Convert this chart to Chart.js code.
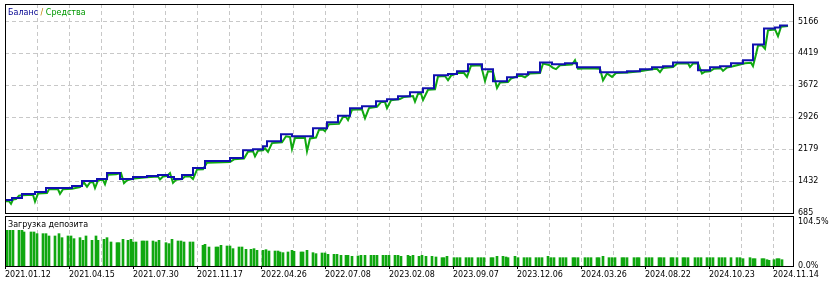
<!DOCTYPE html>
<html><head><meta charset="utf-8">
<script src="https://cdn.jsdelivr.net/npm/chart.js@4/dist/chart.umd.min.js"></script>
<style>
html,body{margin:0;padding:0;background:#fff;width:838px;height:283px;overflow:hidden}
canvas{position:absolute;left:0}
#c1{top:0}
#c2{top:215px}
</style></head><body>
<canvas id="c1" width="838" height="215"></canvas>
<canvas id="c2" width="838" height="68"></canvas>
<script>
// ---- data (x = deal number on the tester's horizontal axis) ----
const dateLabels = ['2021.01.12','2021.04.15','2021.07.30','2021.11.17','2022.04.26','2022.07.08','2023.02.08','2023.09.07','2023.12.06','2024.03.26','2024.08.22','2024.10.23','2024.11.14'];
const balanceTickLabels = [685, 1432, 2179, 2926, 3672, 4419, 5166];
const loadTickLabels = [0, 104.5];
const dealsTotal = 788;

const balancePoints = [[0,988],[7,1035],[17,1128],[30,1175],[41,1268],[67,1315],[77,1432],[92,1479],[102,1619],[115,1479],[128,1525],[142,1549],[153,1572],[163,1525],[169,1479],[177,1572],[188,1735],[200,1899],[225,1969],[238,2155],[248,2179],[258,2249],[262,2365],[276,2529],[287,2482],[308,2669],[322,2809],[333,2960],[345,3136],[357,3182],[371,3299],[382,3346],[393,3416],[405,3509],[418,3602],[429,3906],[443,3940],[452,3999],[463,4163],[477,4046],[488,3766],[502,3859],[512,3929],[523,3976],[535,4209],[547,4163],[560,4186],[572,4093],[595,3976],[622,3999],[635,4046],[647,4093],[658,4116],[668,4209],[693,4023],[705,4093],[715,4116],[726,4186],[738,4256],[748,4629],[759,5003],[770,5026],[775,5073],[783,5073]];

const equityPoints = [[0,960],[4,960],[6,900],[8,1000],[11,1010],[14,1090],[17,1100],[28,1110],[30,950],[33,1140],[42,1150],[44,1240],[53,1240],[55,1130],[58,1240],[67,1250],[75,1290],[79,1395],[82,1300],[85,1400],[88,1410],[90,1270],[93,1450],[98,1460],[100,1360],[103,1580],[111,1590],[113,1600],[116,1620],[119,1385],[122,1450],[129,1490],[142,1520],[153,1540],[155,1470],[158,1540],[162,1550],[165,1620],[168,1390],[171,1460],[177,1480],[180,1540],[185,1545],[188,1480],[192,1700],[198,1710],[202,1860],[225,1880],[229,1940],[239,1960],[243,2120],[248,2130],[250,2010],[253,2140],[258,2150],[260,2200],[263,2115],[267,2320],[277,2340],[281,2480],[285,2460],[287,2180],[290,2440],[300,2440],[302,2130],[305,2430],[311,2450],[314,2630],[318,2640],[320,2600],[324,2760],[334,2770],[338,2930],[341,2930],[343,2860],[347,3100],[357,3110],[360,2900],[364,3140],[372,3170],[376,3280],[380,3280],[382,3140],[386,3320],[395,3350],[399,3400],[408,3420],[410,3290],[413,3470],[416,3480],[418,3330],[423,3570],[430,3580],[433,3880],[440,3890],[443,3790],[446,3900],[453,3960],[459,3960],[462,3870],[466,4130],[476,4140],[480,3770],[483,4000],[488,3990],[492,3610],[495,3740],[503,3750],[506,3830],[513,3890],[517,3890],[520,3860],[525,3950],[535,3960],[538,4180],[544,4150],[548,4080],[551,4050],[555,4140],[567,4160],[570,4260],[573,4060],[585,4070],[595,4060],[598,3790],[602,3950],[607,3870],[611,3960],[623,3970],[635,4000],[647,4050],[652,4060],[655,3980],[658,4080],[668,4100],[672,4180],[683,4190],[685,4100],[688,4180],[693,4180],[697,3950],[700,3990],[705,4000],[709,4060],[716,4070],[718,4010],[722,4090],[728,4120],[740,4190],[746,4200],[748,4120],[751,4400],[753,4600],[757,4610],[760,4530],[763,4960],[770,4980],[773,4820],[776,5040],[783,5060]];

const loadPoints = [[2,84.7],[5,84.7],[8,84.7],[14,84.7],[17,84.7],[19,80.8],[26,80.8],[29,80.8],[32,76.8],[38,76.8],[41,76.8],[44,71.3],[50,71.3],[54,76.8],[57,67.3],[63,71.3],[66,71.3],[69,64.9],[75,67.3],[78,61.0],[81,71.3],[87,61.0],[91,71.3],[93,61.0],[99,63.4],[102,67.3],[106,57.0],[112,55.4],[114,55.4],[118,63.4],[123,61.0],[126,63.4],[128,57.0],[131,57.0],[137,59.4],[139,59.4],[142,59.4],[148,59.4],[151,57.0],[154,61.0],[161,55.4],[164,53.1],[167,63.4],[173,59.4],[176,59.4],[179,57.0],[185,57.0],[188,57.0],[198,49.1],[200,51.5],[204,45.1],[211,45.1],[213,45.1],[216,49.1],[222,47.5],[225,47.5],[228,41.2],[234,45.1],[237,45.1],[241,39.6],[246,39.6],[249,41.2],[252,37.2],[258,37.2],[261,38.8],[264,35.6],[270,35.6],[273,35.6],
[275,33.3],[278,31.7],[283,33.3],[287,37.2],[289,34.8],[296,33.3],[298,33.3],[302,37.2],[308,31.7],[311,29.3],[317,30.9],[320,30.9],[323,27.7],[329,27.7],[332,27.7],[336,25.3],[341,25.3],[343,25.3],[347,23.0],[353,23.8],[356,25.3],[360,25.3],[366,25.3],[369,25.3],[372,25.3],[378,25.3],[381,25.3],[384,25.3],[390,25.3],[393,25.3],[396,23.0],[403,25.3],[405,23.0],[408,25.3],[414,23.0],[417,25.3],[421,23.0],[427,23.0],[431,21.4],[437,19.8],[439,19.8],[442,23.0],[449,19.8],[452,19.8],[455,19.8],[461,19.8],[464,19.8],[467,19.8],[473,19.8],[476,19.8],[479,19.8],[486,19.8],[488,19.8],[492,23.0],[498,23.0],[501,21.4],[503,19.8],[510,23.0],[513,19.8],[519,19.8],[522,19.8],[525,19.8],[531,19.8],[534,19.8],[537,19.8],[543,23.0],[546,19.8],[549,19.8],
[555,19.8],[558,19.8],[561,19.8],[568,19.8],[570,19.8],[573,19.8],[580,19.8],[583,19.8],[586,19.8],[592,19.8],[594,19.8],[598,23.0],[604,19.8],[607,19.8],[610,19.8],[617,19.8],[619,19.8],[622,19.8],[629,19.8],[632,19.8],[634,19.8],[641,19.8],[644,19.8],[647,19.8],[654,19.8],[656,19.8],[659,19.8],[666,19.8],[668,19.8],[672,19.8],[678,19.8],[680,19.8],[683,19.8],[690,19.8],[693,19.8],[696,19.8],[702,19.8],[705,19.8],[708,19.8],[714,19.8],[717,19.8],[720,19.8],[726,19.8],[732,19.8],[735,19.8],[738,17.4],[745,19.8],[748,17.4],[750,17.4],[757,17.4],[759,17.4],[762,15.0],[764,13.5],[769,15.0],[772,17.4],[774,17.4],[777,15.0]];

// ---- styling ----
const FONT = '"DejaVu Sans", sans-serif';
Chart.defaults.font.family = FONT;
Chart.defaults.font.size = 8;
Chart.defaults.color = '#000';
const GRID = '#c8c8c8';
const DASH = [4, 3];
const BAL_COLOR = '#1010b0';
const EQ_COLOR = '#10a810';
const LABEL_STEP = 64, GRID_STEP = 32;

function gridTicks(){
  const t = [];
  for (let v = 0; v <= (dateLabels.length - 1) * LABEL_STEP; v += GRID_STEP) t.push({value: v});
  return t;
}

const framePlugin = {
  id: 'frame',
  afterDraw(chart){
    const {ctx, chartArea: a} = chart;
    ctx.save();
    ctx.strokeStyle = '#000';
    ctx.lineWidth = 1;
    ctx.strokeRect(a.left + 0.5, a.top + 0.5, a.right - a.left, a.bottom - a.top);
    const parts = chart.options.plugins.frame.title || [];
    ctx.font = '8px ' + FONT;
    ctx.textBaseline = 'middle';
    let x = a.left + 3;
    const y = a.top + chart.options.plugins.frame.titleY;
    for (const [txt, col] of parts){
      ctx.fillStyle = col;
      ctx.fillText(txt, x, y);
      x += ctx.measureText(txt).width;
    }
    ctx.restore();
  }
};

const commonX = {
  type: 'linear', min: 0, max: dealsTotal, offset: false,
  afterBuildTicks: s => { s.ticks = gridTicks(); },
  grid: {color: GRID, offset: false, drawTicks: false},
  border: {display: false, dash: DASH}
};

new Chart(document.getElementById('c1'), {
  type: 'line',
  data: {datasets: [
    {label: 'Баланс', data: balancePoints.map(p => ({x: p[0], y: p[1]})), borderColor: BAL_COLOR, borderWidth: 2, stepped: 'before', pointRadius: 0, fill: false},
    {label: 'Средства', data: equityPoints.map(p => ({x: p[0], y: p[1]})), borderColor: EQ_COLOR, borderWidth: 2, tension: 0, pointRadius: 0, fill: false}
  ]},
  options: {
    responsive: false, animation: false, events: [],
    layout: {padding: {left: 5, top: 4, right: 0, bottom: 2}},
    plugins: {legend: {display: false}, tooltip: {enabled: false},
      frame: {title: [['Баланс', '#000090'], [' / ', '#c08000'], ['Средства', '#009800']], titleY: 9}},
    scales: {
      x: Object.assign({}, commonX, {
        ticks: {display: false},
        afterFit: s => { s.height = 0; s.paddingLeft = 0; s.paddingRight = 0; }
      }),
      y: {
        type: 'linear', position: 'right', min: 685, max: 5575,
        afterBuildTicks: s => { s.ticks = balanceTickLabels.map(v => ({value: v})); },
        ticks: {padding: 5, callback: v => String(v)},
        grid: {color: GRID, drawTicks: false},
        border: {display: false, dash: DASH},
        afterFit: s => { s.width = 45; s.paddingTop = 0; s.paddingBottom = 0; }
      }
    }
  },
  plugins: [framePlugin]
});

new Chart(document.getElementById('c2'), {
  type: 'bar',
  data: {datasets: [
    {label: 'Загрузка депозита', data: loadPoints.map(p => ({x: p[0], y: p[1]})), backgroundColor: EQ_COLOR, barThickness: 2, borderWidth: 0}
  ]},
  options: {
    responsive: false, animation: false, events: [],
    layout: {padding: {left: 5, top: 1, right: 0, bottom: 0}},
    plugins: {legend: {display: false}, tooltip: {enabled: false},
      frame: {title: [['Загрузка депозита', '#000']], titleY: 9}},
    scales: {
      x: Object.assign({}, commonX, {
        grid: {color: GRID, offset: false, drawTicks: true, tickLength: 3,
          tickColor: c => (c.tick && c.tick.value % LABEL_STEP === 0) ? '#000' : 'rgba(0,0,0,0)'},
        ticks: {autoSkip: false, maxRotation: 0, minRotation: 0, align: 'start', padding: 1,
          callback: v => (v % LABEL_STEP === 0) ? dateLabels[v / LABEL_STEP] : ''},
        afterFit: s => { s.height = 17; s.paddingLeft = 0; s.paddingRight = 0; }
      }),
      y: {
        type: 'linear', position: 'right', min: 0, max: 118.75,
        afterBuildTicks: s => { s.ticks = loadTickLabels.map(v => ({value: v})); },
        ticks: {padding: 5, callback: v => v.toFixed(1) + '%'},
        grid: {display: false, drawTicks: false},
        border: {display: false},
        afterFit: s => { s.width = 45; s.paddingTop = 0; s.paddingBottom = 0; }
      }
    }
  },
  plugins: [framePlugin]
});
</script>
</body></html>
